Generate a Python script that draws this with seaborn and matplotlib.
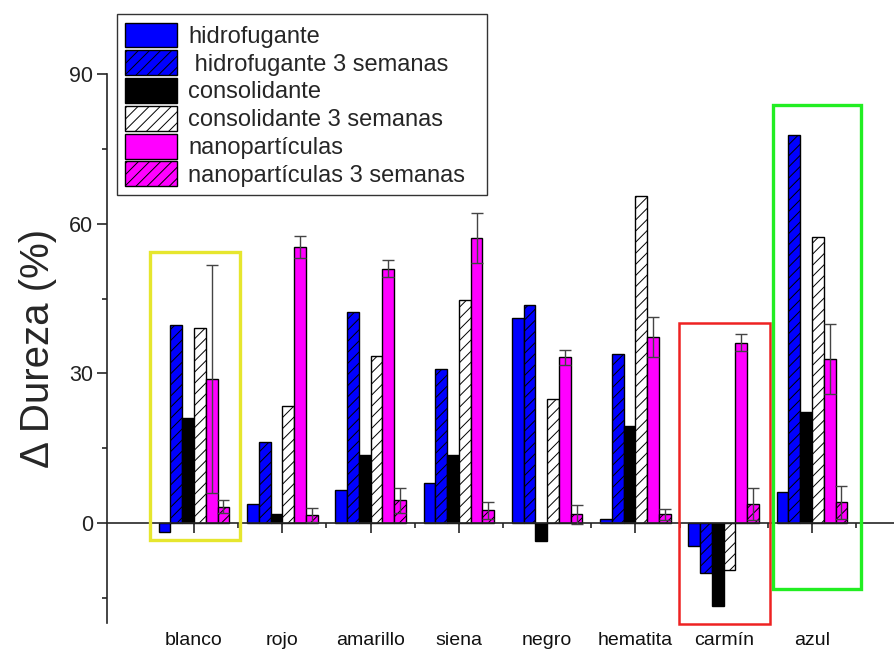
import numpy as np
import pandas as pd
import matplotlib
matplotlib.use("Agg")
import matplotlib.pyplot as plt
import matplotlib.patches as mpatches
from matplotlib.ticker import MultipleLocator
import seaborn as sns

# ---- data ----
pigments = ["blanco", "rojo", "amarillo", "siena", "negro", "hematita", "carmín", "azul"]
series = ["hidrofugante", " hidrofugante 3 semanas", "consolidante",
          "consolidante 3 semanas", "nanopartículas", "nanopartículas 3 semanas"]

hidrofugante = [-1.7, 3.9, 6.6, 8.1, 41.2, 0.9, -4.6, 6.3]
hidrofugante_3s = [39.7, 16.3, 42.3, 30.8, 43.8, 33.8, -10.1, 77.7]
consolidante = [21.1, 1.8, 13.7, 13.6, -3.5, 19.4, -16.6, 22.2]
consolidante_3s = [39.0, 23.4, 33.5, 44.8, 24.8, 65.6, -9.5, 57.4]
nano = [28.9, 55.4, 51.0, 57.1, 33.2, 37.3, 36.1, 32.9]
nano_3s = [3.3, 1.7, 4.6, 2.6, 1.8, 1.8, 3.8, 4.2]
nano_err = [22.9, 2.2, 1.7, 5.0, 1.5, 4.1, 1.7, 7.0]
nano_3s_err = [1.3, 1.4, 2.5, 1.7, 1.9, 1.1, 3.2, 3.3]

yticks = [0, 30, 60, 90]

values = [hidrofugante, hidrofugante_3s, consolidante, consolidante_3s, nano, nano_3s]
colors = ["#0000ff", "#0000ff", "#000000", "#ffffff", "#ff00ff", "#ff00ff"]
hatches = ["", "///", "", "///", "", "///"]

rows = []
for s, vals in zip(series, values):
    for p, v in zip(pigments, vals):
        rows.append({"pigmento": p, "serie": s, "valor": v})
df = pd.DataFrame(rows)

# ---- figure ----
sns.set_style("ticks")
plt.rcParams["font.family"] = ["Liberation Sans", "DejaVu Sans"]
plt.rcParams["hatch.linewidth"] = 0.7

fig = plt.figure(figsize=(8.95, 6.5), dpi=100)
ax = fig.add_axes([0.1196, 0.0418, 0.8804, 0.8443])

sns.barplot(data=df, x="pigmento", y="valor", hue="serie", order=pigments,
            hue_order=series, palette=colors, edgecolor="black", linewidth=1.0,
            errorbar=None, legend=False, ax=ax, saturation=1)

bar_containers = list(ax.containers)[:6]
for cont, h in zip(bar_containers, hatches):
    for patch in cont.patches:
        patch.set_hatch(h)

# error bars on nanoparticle series
for cont, vals, errs in zip(bar_containers[4:6], [nano, nano_3s], [nano_err, nano_3s_err]):
    xs = [p.get_x() + p.get_width() / 2 for p in cont.patches]
    ax.errorbar(xs, vals, yerr=errs, fmt="none", ecolor="#444444",
                elinewidth=1.0, capsize=4.5, capthick=1.0, zorder=5)

ax.set_xlim(-0.985, 7.94)
ax.set_ylim(-20, 90)
ax.set_yticks(yticks)
ax.yaxis.set_minor_locator(MultipleLocator(15))
ax.xaxis.set_minor_locator(MultipleLocator(0.5))

ax.spines["top"].set_visible(False)
ax.spines["right"].set_visible(False)
ax.spines["bottom"].set_position(("data", 0))
ax.spines["bottom"].set_linewidth(1.2)
ax.spines["left"].set_linewidth(1.2)

ax.tick_params(axis="y", which="major", direction="out", length=7, width=1.2,
               labelsize=15.5, labelcolor="#222222", pad=3)
ax.tick_params(axis="y", which="minor", direction="out", length=3.5, width=1.2)
ax.tick_params(axis="x", which="major", direction="out", length=7, width=1.2,
               labelsize=14, labelcolor="#111111", pad=71.5)
ax.tick_params(axis="x", which="minor", direction="out", length=3.5, width=1.2)

ax.set_xlabel("")
ax.set_ylabel("Δ Dureza (%)", fontsize=29, labelpad=9)

# highlight boxes
ax.add_patch(mpatches.Rectangle((-0.5, -3.4), 1.02, 57.7, fill=False,
                                edgecolor="#e6e62e", linewidth=2.4, clip_on=False, zorder=6))
ax.add_patch(mpatches.Rectangle((5.49, -20.2), 1.03, 60.3, fill=False,
                                edgecolor="#ee2222", linewidth=1.8, clip_on=False, zorder=6))
ax.add_patch(mpatches.Rectangle((6.56, -13.2), 1.0, 97.0, fill=False,
                                edgecolor="#22ee22", linewidth=2.4, clip_on=False, zorder=6))

leg = ax.legend(handles=bar_containers, labels=series, loc="upper left",
                bbox_to_anchor=(117 / 895, 1 - 197 / 650, 370 / 895, 183 / 650),
                bbox_transform=fig.transFigure, mode="expand",
                fontsize=17, frameon=True, fancybox=False, framealpha=1,
                edgecolor="#333333", borderaxespad=0, handlelength=2.2,
                handleheight=1.25, labelspacing=0.1, handletextpad=0.45,
                borderpad=0.36)
leg.get_frame().set_linewidth(1.0)

fig.savefig("out.png", dpi=100)
